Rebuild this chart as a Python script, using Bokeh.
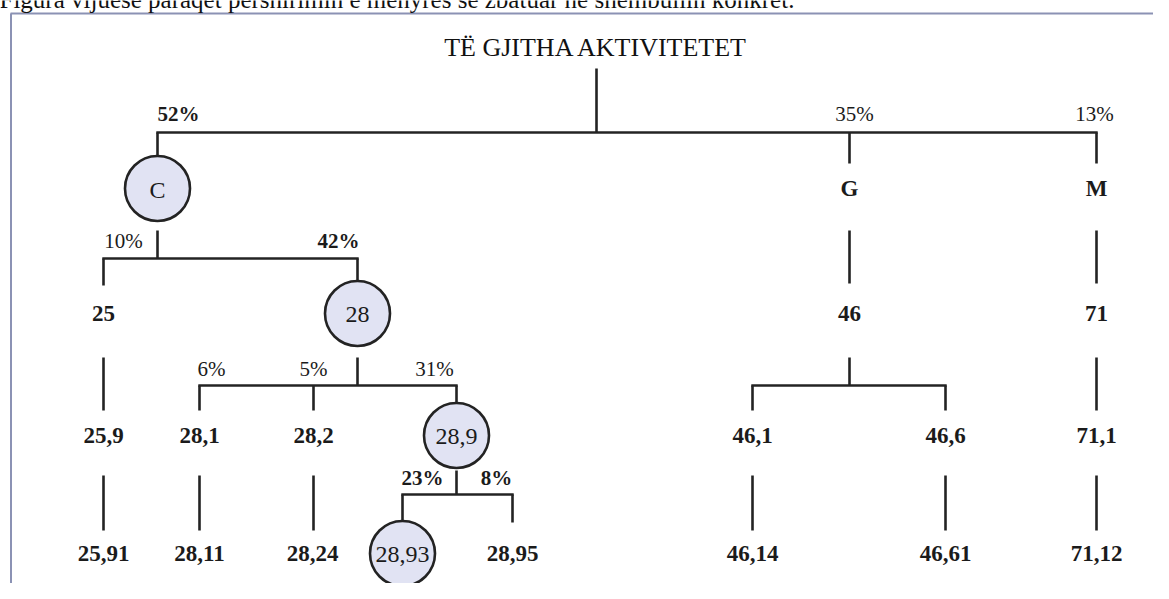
from bokeh.plotting import figure
from bokeh.models import Range1d, ColumnDataSource
from bokeh.embed import file_html
from bokeh.resources import INLINE
from bokeh.core.properties import value

# ---------------- data ----------------
caption = "Figura vijuese paraqet përshirimin e mënyrës së zbatuar në shembullin konkret."
root_label = "TË GJITHA AKTIVITETET"
node_ids = ["C", "G", "M",
            "25", "28", "46", "71",
            "25,9", "28,1", "28,2", "28,9", "46,1", "46,6", "71,1",
            "25,91", "28,11", "28,24", "28,93", "28,95", "46,14", "46,61", "71,12"]
node_parent = ["ROOT", "ROOT", "ROOT",
               "C", "C", "G", "M",
               "25", "28", "28", "28", "46", "46", "71",
               "25,9", "28,1", "28,2", "28,9", "28,9", "46,1", "46,6", "71,1"]
node_share = [52, 35, 13,
              10, 42, None, None,
              None, 6, 5, 31, None, None, None,
              None, None, None, 23, 8, None, None, None]
share_emphasis = ["C", "28", "28,93", "28,95"]
highlighted = ["C", "28", "28,9", "28,93"]

# ---------------- layout (pixel positions) ----------------
root_x = 596
title_y = 47
level_y = [47, 188, 313, 435, 553]
share_y = [None, 113, 240, 368, 477]
node_x = {"C": 157, "G": 849, "M": 1096,
          "25": 103, "28": 357, "46": 849, "71": 1096,
          "25,9": 103, "28,1": 199, "28,2": 313, "28,9": 456,
          "46,1": 752, "46,6": 945, "71,1": 1096,
          "25,91": 103, "28,11": 199, "28,24": 312, "28,93": 402,
          "28,95": 512, "46,14": 752, "46,61": 945, "71,12": 1096}
share_dx = {"C": 21, "G": 5, "M": -2, "25": 20, "28": -19,
            "28,1": 12, "28,2": 0, "28,9": -22, "28,93": 20, "28,95": -16}
# per parent level: (stem_top, bar_y, drop_end, single_top, single_end)
conn = {0: (68, 132, 163, None, None),
        1: (230, 258, 285, 230, 283),
        2: (357, 385, 410, 357, 410),
        3: (470, 494, 522, 475, 530)}
circle_d = 65

node_x["ROOT"] = root_x
depth = {"ROOT": 0}
for n, par in zip(node_ids, node_parent):
    depth[n] = depth[par] + 1

children = {}
for n, par in zip(node_ids, node_parent):
    children.setdefault(par, []).append(n)

# ---------------- figure ----------------
W, H = 1153, 583
p = figure(width=W, height=H, x_range=Range1d(0, W), y_range=Range1d(H, 0),
           output_backend="svg", toolbar_location=None, min_border=0)
p.axis.visible = False
p.grid.visible = False
p.outline_line_color = None
p.background_fill_color = "white"

SERIF = value("Liberation Serif")
LINE = "#232323"

# page frame
p.segment(x0=[10, 10.5], y0=[13, 13], x1=[W, 10.5], y1=[13, H],
          line_color="#8b92b4", line_width=2)
# caption (cut at the top of the page, as in the source)
p.text(x=[-1], y=[-1], text=[caption], text_font=SERIF, text_font_size="25px",
       text_color="#111111", text_align="left", text_baseline="alphabetic")

# connectors
xs0, ys0, xs1, ys1 = [], [], [], []
for par, kids in children.items():
    L = depth[par]
    px = node_x[par]
    stem_top, bar_y, drop_end, s_top, s_end = conn[L]
    if len(kids) == 1:
        xs0.append(px); ys0.append(s_top); xs1.append(px); ys1.append(s_end)
    else:
        kx = [node_x[k] for k in kids]
        xs0.append(px); ys0.append(stem_top); xs1.append(px); ys1.append(bar_y)
        xs0.append(min(kx) - 1.2); ys0.append(bar_y); xs1.append(max(kx) + 1.2); ys1.append(bar_y)
        for k in kids:
            xs0.append(node_x[k]); ys0.append(bar_y); xs1.append(node_x[k]); ys1.append(drop_end)
p.segment(x0=xs0, y0=ys0, x1=xs1, y1=ys1, line_color=LINE, line_width=2.6)

# highlighted circles
p.ellipse(x=[node_x[n] for n in highlighted], y=[level_y[depth[n]] for n in highlighted],
          width=circle_d, height=circle_d, fill_color="#e1e3f3",
          line_color=LINE, line_width=2.6)

# title
p.text(x=[root_x], y=[title_y], text=[root_label], text_font=SERIF,
       text_font_size="26px", text_color="#111111",
       text_align="center", text_baseline="middle")

# node labels
plain = ColumnDataSource(dict(
    x=[node_x[n] for n in node_ids if n not in highlighted],
    y=[level_y[depth[n]] for n in node_ids if n not in highlighted],
    t=[n for n in node_ids if n not in highlighted]))
p.text(x="x", y="y", text="t", source=plain, text_font=SERIF, text_font_size="23px",
       text_font_style="bold", text_color="#1b1b1b",
       text_align="center", text_baseline="middle")
circ = ColumnDataSource(dict(
    x=[node_x[n] for n in highlighted],
    y=[level_y[depth[n]] + 1 for n in highlighted],
    t=highlighted))
p.text(x="x", y="y", text="t", source=circ, text_font=SERIF, text_font_size="24px",
       text_color="#1b1b1b", text_align="center", text_baseline="middle")

# share labels
for bold in (True, False):
    sel = [(n, s) for n, s in zip(node_ids, node_share)
           if s is not None and ((n in share_emphasis) == bold)]
    src = ColumnDataSource(dict(
        x=[node_x[n] + share_dx[n] for n, s in sel],
        y=[share_y[depth[n]] for n, s in sel],
        t=[f"{s}%" for n, s in sel]))
    p.text(x="x", y="y", text="t", source=src, text_font=SERIF, text_font_size="21px",
           text_font_style="bold" if bold else "normal", text_color="#1b1b1b",
           text_align="center", text_baseline="middle")

open("out.html", "w").write(file_html(p, INLINE))
